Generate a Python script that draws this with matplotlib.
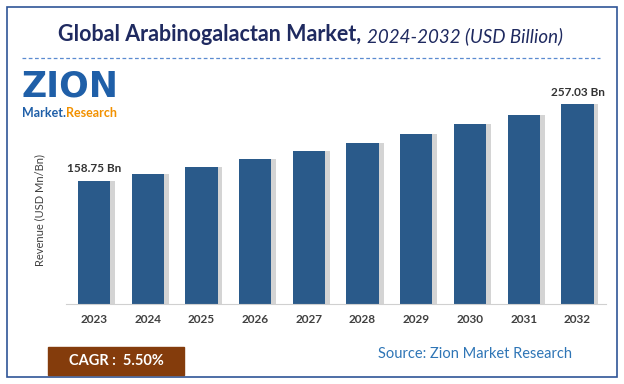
import numpy as np
import matplotlib.pyplot as plt
from matplotlib.patches import Rectangle

years = ['2023', '2024', '2025', '2026', '2027', '2028', '2029', '2030', '2031', '2032']
revenue = [158.75, 167.5, 176.7, 186.4, 196.6, 207.4, 218.8, 230.9, 243.6, 257.03]
labels = {0: '158.75 Bn', 9: '257.03 Bn'}

plt.rcParams['font.family'] = ['Lato', 'DejaVu Sans']

fig = plt.figure(figsize=(6.24, 3.84), dpi=100)

# outer border
fig.patches.append(Rectangle((7 / 624, 7 / 384), 610 / 624, 370 / 384, transform=fig.transFigure,
                             fill=False, edgecolor='#2F5597', linewidth=1.2))

# title, italic part placed right after the bold part
t1 = fig.text(58 / 624, 0.91, 'Global Arabinogalactan Market,', fontsize=15.5, fontweight='bold',
              color='#1F2A60', va='center', ha='left')
fig.canvas.draw()
bb = t1.get_window_extent()
fig.text((bb.x1 + 6) / 624, 0.905, '2024-2032 (USD Billion)', fontsize=13.5, style='italic',
         color='#1F2A60', va='center', ha='left')
fig.add_artist(plt.Line2D([22 / 624, 600 / 624], [1 - 58 / 384] * 2, transform=fig.transFigure,
                          color='#5B8BD0', linestyle=(0, (3, 2)), linewidth=0.9))

# logo
fig.text(0.035, 0.775, 'ZION', fontsize=25, fontweight='heavy', color='#1F5FA8',
         va='center', ha='left', family='DejaVu Sans')
fig.text(0.035, 0.705, 'Market.', fontsize=9, fontweight='bold', color='#1F5FA8',
         va='center', ha='left')
fig.text(0.105, 0.705, 'Research', fontsize=9, fontweight='bold', color='#F29100',
         va='center', ha='left')

ax = fig.add_axes([66 / 624, 1 - 304 / 384, 540 / 624, 224 / 384])
x = np.arange(len(years))
ax.bar(x + 0.09, revenue, width=0.6, color='#D4D4D4', zorder=1)
ax.bar(x, revenue, width=0.6, color='#2A5A8A', zorder=2)
for i, t in labels.items():
    ax.text(x[i], revenue[i] + 8, t, ha='center', va='bottom', fontsize=8.5,
            fontweight='bold', color='#333333')

ax.set_xlim(-0.52, 9.53)
ax.set_ylim(0, 288)
ax.set_xticks(x)
ax.set_xticklabels(years, fontsize=8.5, fontweight='bold', color='#404040')
ax.tick_params(axis='x', length=0, pad=7)
ax.set_yticks([])
for s in ['top', 'right', 'left']:
    ax.spines[s].set_visible(False)
ax.spines['bottom'].set_color('#D0D0D0')
fig.text(40 / 624, 1 - 210 / 384, 'Revenue (USD Mn/Bn)', rotation=90, fontsize=8,
         color='#404040', va='center', ha='center')

# CAGR box and source
fig.patches.append(Rectangle((48 / 624, 1 - 375 / 384), 136 / 624, 28 / 384,
                             transform=fig.transFigure, color='#843C0C'))
fig.text(116 / 624, 1 - 361 / 384, 'CAGR :  5.50%', fontsize=10.5, fontweight='bold',
         color='white', va='center', ha='center')
fig.text(475 / 624, 1 - 354 / 384, 'Source: Zion Market Research', fontsize=10.5,
         color='#2E75B6', va='center', ha='center')

fig.savefig('out.png', dpi=100)
